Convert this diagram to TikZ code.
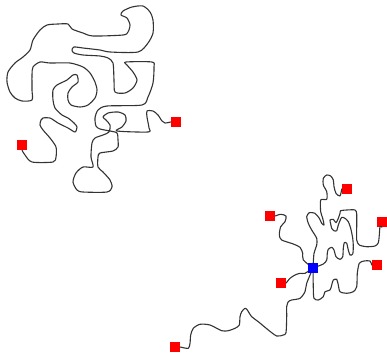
\documentclass[tikz,border=0pt]{standalone}
\begin{document}
\begin{tikzpicture}[x=1pt,y=-1pt,
  wire/.style={draw=black!80,line width=1.1pt,line join=round,line cap=round},
  endsq/.style={fill=red,draw=none,minimum size=10.5pt,inner sep=0pt,outer sep=0pt},
  hubsq/.style={fill=blue,draw=none,minimum size=10.5pt,inner sep=0pt,outer sep=0pt}]
\useasboundingbox[fill=white] (0,0) rectangle (387,361);
% top-left cluster
\node[endsq] (L) at (22,145) {};
\node[endsq] (R) at (176,122) {};
\draw[wire] plot[smooth,tension=0.45] coordinates {(L.south) (25,155) (32,162) (53,162) (56,157) (56,147) (50,138) (43,130) (40,125) (41,120) (43,118) (50,118) (58,123) (68,128) (75,132) (77,127) (74,123) (68,118) (62,115) (55,108) (53,100) (53,90) (57,85) (67,80) (73,75) (77,75) (78,82) (72,87) (68,93) (68,100) (71,105) (80,107) (88,105) (95,98) (97,90) (95,82) (90,73) (83,67) (70,63) (50,63) (40,62) (33,67) (32,75) (32,90) (32,100) (22,101) (15,98) (10,92) (7,82) (8,72) (15,63) (23,57) (30,50) (33,40) (40,30) (47,25) (58,24) (68,24) (72,29) (83,33) (93,36) (123,35) (128,32) (130,25) (127,18) (121,15) (123,11) (132,7) (143,6) (150,12) (153,20) (153,33) (148,43) (138,52) (110,52) (100,50) (83,48) (74,47) (72,50) (74,53) (83,55) (100,56) (108,58) (113,63) (114,80) (115,92) (125,93) (133,88) (137,80) (133,72) (127,65) (126,62) (152,62) (154,67) (153,83) (148,97) (142,105) (107,106) (98,110) (95,118) (96,126) (100,129) (110,131) (117,133) (118,140) (118,147) (113,151) (100,153) (98,157) (98,167) (103,172) (110,180) (112,187) (107,192) (83,192) (77,190) (73,182) (76,173) (83,167) (93,167) (91,157) (92,143) (95,138) (103,135) (109,132) (110,125) (106,120) (103,117) (108,113) (118,112) (125,115) (126,121) (122,127) (117,131) (148,132) (149,128) (147,117) (147,111) (153,111) (158,115) (162,121) (165,123) (R.west)};
% bottom-right cluster
\node[hubsq] (H) at (313,268) {};
\node[endsq] (A) at (347,189) {};
\node[endsq] (B) at (270,216) {};
\node[endsq] (C) at (382,222) {};
\node[endsq] (D) at (377,265) {};
\node[endsq] (E) at (281,283) {};
\node[endsq] (F) at (175,347) {};
\draw[wire] plot[smooth,tension=0.45] coordinates {(B.east) (280.7,214.3) (286,216) (285,221.7) (280.7,226.7) (279.3,235) (281.7,240) (293.3,244) (300,247.3) (302.7,253.3) (303.3,260) (H.center)};
\draw[wire] plot[smooth,tension=0.45] coordinates {(E.east) (290,278.3) (295,275) (300,273.3) (305,273.3) (H.center)};
\draw[wire] plot[smooth,tension=0.45] coordinates {(H.center) (306.7,283.3) (305,291.7) (300,298.3) (291.7,300) (288.3,301.7) (286.7,306.7) (286.7,316.7) (286,332.7) (283.3,335) (276.7,336) (268.3,330) (258.3,321.7) (251.7,316.7) (247.3,310) (245,308.3) (241.7,311.7) (240,316.7) (239.3,325) (235,328.3) (228.3,330.7) (221.7,330.7) (210,325) (200,324.3) (193.3,328.3) (190.7,335) (190,343.3) (188.3,348.3) (F.east)};
\draw[wire] plot[smooth,tension=0.45] coordinates {(H.center) (313.3,288.3) (314,298.3) (318.3,300) (323.3,296.7) (325,291.7) (330,290) (331.7,285) (333.3,280) (336.7,279.3) (338.3,285) (340,291.7) (346.7,293.3) (353.3,291.7) (356.7,286.7) (357.3,273.3) (359.3,263.3) (364,261) (370,261) (D.west)};
\draw[wire] plot[smooth,tension=0.45] coordinates {(H.center) (314,253.3) (316.7,245) (316.7,238.3) (311.7,230) (308.3,223.3) (306.7,216.7) (309.3,212.7) (315,213.3) (319.3,218.3) (321.7,223.3) (324,225) (322.7,218.3) (320.7,211.7) (320.7,200) (326.7,199.3) (326.7,191.7) (323.3,185) (323.3,178.3) (326.7,175) (330.7,176) (333.3,180) (334,186.7) (336,193.3) (340,196) (A.west)};
\draw[wire] plot[smooth,tension=0.45] coordinates {(H.center) (323.3,264) (326.7,260) (327.3,253.3) (328.3,249.3) (331.7,247.3) (334,250) (336,256.7) (340,259.3) (342.7,256.7) (343.3,248.3) (344.3,242.7) (346.7,243.3) (348.3,250) (350,255) (352.7,254) (353.3,246.7) (352.7,238.3) (350.7,228.3) (348.3,221.7) (345,218.3) (341.7,217.3) (340,220.7) (338.3,225) (336.7,230.7) (334,230.7) (331.7,228.3) (330.7,224) (330,220) (333.3,219.3) (336,222.7) (338.3,218.3) (340,213.3) (340.7,210.7) (346.7,210) (355,210) (356.7,214) (356.7,226.7) (356.7,240) (359.3,245) (366.7,246.7) (375,246) (378.3,242.7) (379.3,235) (380,226.7) (C.south)};
\node[hubsq] at (H) {};
\end{tikzpicture}
\end{document}
